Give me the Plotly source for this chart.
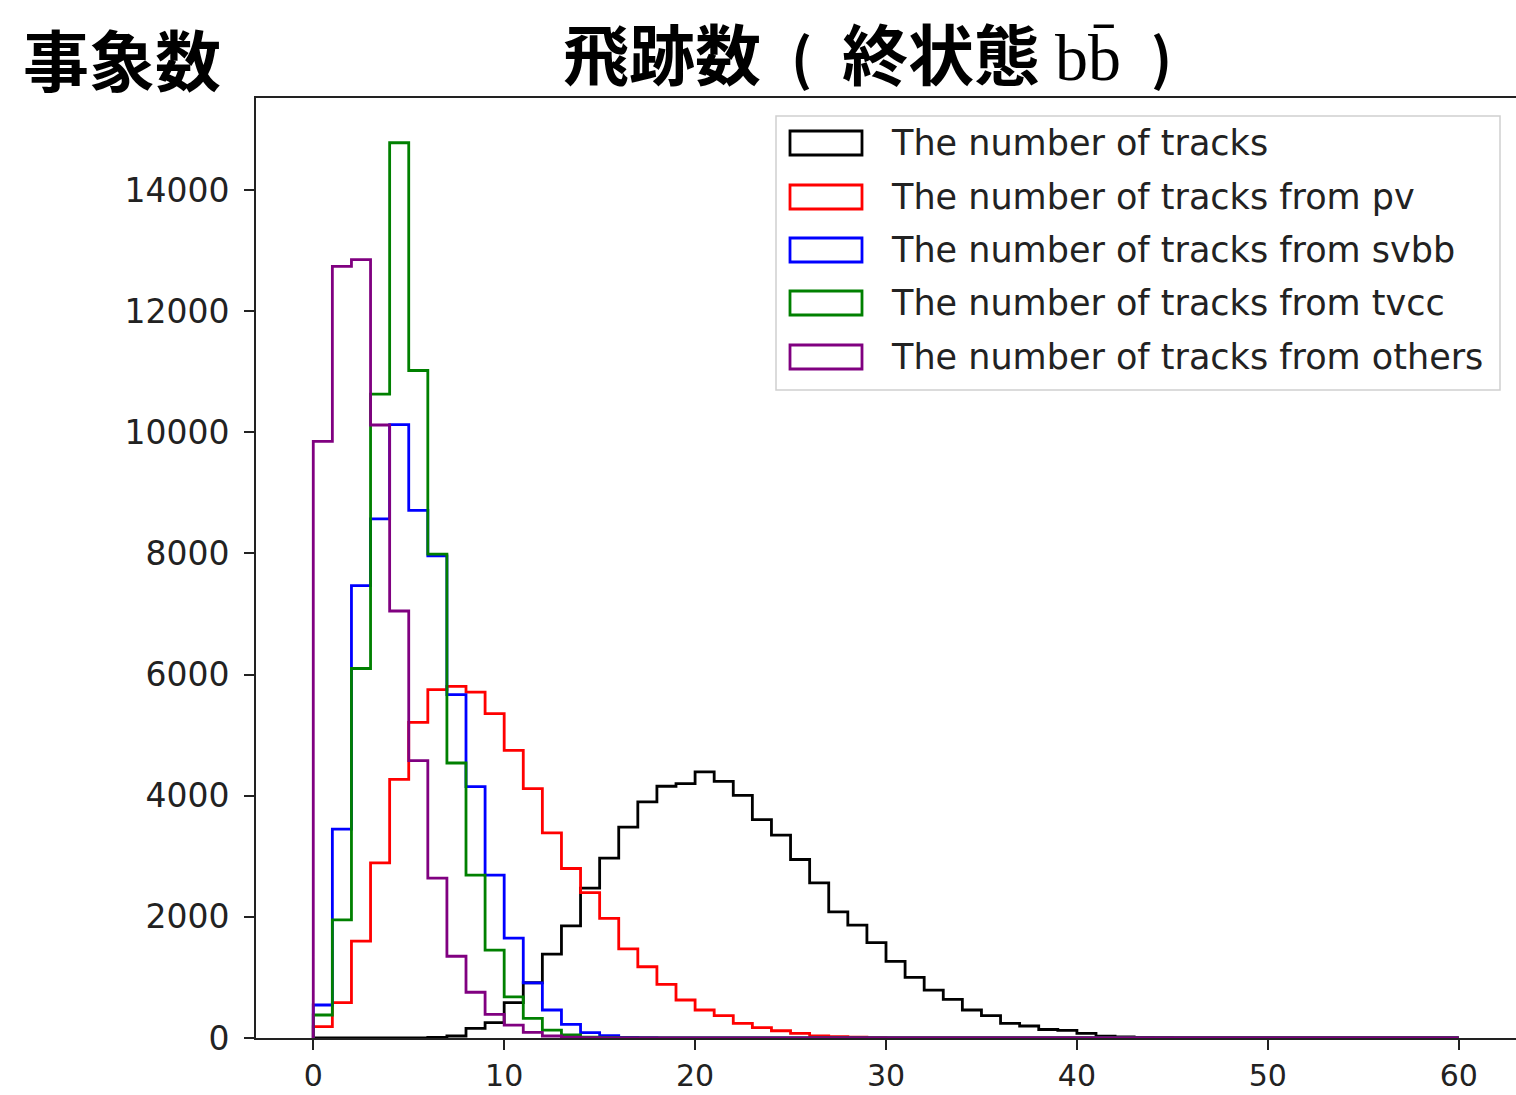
import plotly.graph_objects as go

# Bin edges: 60 unit-width bins from 0 to 60
bin_edges = list(range(0, 61))

# Event counts per bin for each track category
tracks_total = [0, 0, 0, 0, 0, 0, 8, 33, 160, 255,
                583, 912, 1385, 1850, 2475, 2970, 3480, 3897, 4156, 4200,
                4392, 4238, 4007, 3606, 3348, 2947, 2561, 2083, 1863, 1575,
                1265, 1000, 792, 638, 462, 368, 242, 198, 140, 125,
                77, 30, 18, 10, 5, 3, 2, 1, 1, 0,
                0, 0, 0, 0, 0, 0, 0, 0, 0, 0]
tracks_pv = [187, 583, 1600, 2891, 4271, 5210, 5750, 5805, 5711, 5355,
             4750, 4118, 3386, 2798, 2400, 1974, 1470, 1176, 885, 627,
             462, 368, 242, 170, 120, 77, 35, 22, 12, 5,
             3, 0, 0, 0, 0, 0, 0, 0, 0, 0,
             0, 0, 0, 0, 0, 0, 0, 0, 0, 0,
             0, 0, 0, 0, 0, 0, 0, 0, 0, 0]
tracks_svbb = [545, 3450, 7470, 8570, 10125, 8710, 7960, 5670, 4150, 2690,
               1650, 910, 462, 225, 88, 38, 10, 4, 1, 0,
               0, 0, 0, 0, 0, 0, 0, 0, 0, 0,
               0, 0, 0, 0, 0, 0, 0, 0, 0, 0,
               0, 0, 0, 0, 0, 0, 0, 0, 0, 0,
               0, 0, 0, 0, 0, 0, 0, 0, 0, 0]
tracks_tvcc = [380, 1950, 6100, 10630, 14780, 11020, 7990, 4540, 2690, 1450,
               680, 325, 130, 50, 15, 5, 2, 0, 0, 0,
               0, 0, 0, 0, 0, 0, 0, 0, 0, 0,
               0, 0, 0, 0, 0, 0, 0, 0, 0, 0,
               0, 0, 0, 0, 0, 0, 0, 0, 0, 0,
               0, 0, 0, 0, 0, 0, 0, 0, 0, 0]
tracks_others = [9850, 12740, 12850, 10120, 7050, 4580, 2640, 1350, 755, 390,
                 214, 94, 33, 12, 5, 2, 0, 0, 0, 0,
                 0, 0, 0, 0, 0, 0, 0, 0, 0, 0,
                 0, 0, 0, 0, 0, 0, 0, 0, 0, 0,
                 0, 0, 0, 0, 0, 0, 0, 0, 0, 0,
                 0, 0, 0, 0, 0, 0, 0, 0, 0, 0]

series_names = [
    "The number of tracks",
    "The number of tracks from pv",
    "The number of tracks from svbb",
    "The number of tracks from tvcc",
    "The number of tracks from others",
]
series_values = [tracks_total, tracks_pv, tracks_svbb, tracks_tvcc, tracks_others]
series_colors = ["#000000", "#ff0000", "#0000ff", "#008000", "#800080"]

x_ticks = [0, 10, 20, 30, 40, 50, 60]
y_ticks = [0, 2000, 4000, 6000, 8000, 10000, 12000, 14000]

W, H = 1516, 1095
ML, MR, MT, MB = 256, 0, 98, 57


def step_outline(edges, counts):
    """Outline of a step histogram: rise at the first edge, fall at the last."""
    xs = [edges[0]] + list(edges[:-1]) + [edges[-1], edges[-1]]
    ys = [0] + list(counts) + [counts[-1], 0]
    return xs, ys


fig = go.Figure()
for name, vals, col in zip(series_names, series_values, series_colors):
    xs, ys = step_outline(bin_edges, vals)
    fig.add_trace(go.Scatter(
        x=xs, y=ys, mode="lines", name=name,
        line=dict(color=col, width=2.8, shape="hv"),
        showlegend=False, hoverinfo="skip",
    ))

ymax = max(max(v) for v in series_values) * 1.05

fig.update_layout(
    width=W, height=H,
    margin=dict(l=ML, r=MR, t=MT, b=MB, pad=0, autoexpand=False),
    paper_bgcolor="white", plot_bgcolor="white",
    showlegend=False,
    font=dict(family="DejaVu Sans", color="#222222"),
)
fig.update_xaxes(
    range=[-3, 63], tickvals=x_ticks, ticktext=[str(t) for t in x_ticks],
    showgrid=False, zeroline=False, automargin=False,
    showline=True, linecolor="#222222", linewidth=2, mirror=True,
    ticks="outside", ticklen=10, tickwidth=2, tickcolor="#222222",
    tickfont=dict(family="DejaVu Sans", size=30, color="#222222"),
    ticklabelstandoff=0,
)
fig.update_yaxes(
    range=[0, ymax], tickvals=y_ticks, ticktext=[str(t) for t in y_ticks],
    showgrid=False, zeroline=False, automargin=False,
    showline=True, linecolor="#222222", linewidth=2, mirror=False,
    ticks="outside", ticklen=10, tickwidth=2, tickcolor="#222222",
    tickfont=dict(family="DejaVu Sans", size=33, color="#222222"),
    ticklabelstandoff=8,
)

pw, ph = W - ML - MR, H - MT - MB


def px_x(px):
    return (px - ML) / pw


def px_y(py):
    return (H - MB - py) / ph


NB = "\u00a0"
PAREN = "<span style=\"font-size:56px\">{}</span>"

# Titles
fig.add_annotation(
    x=px_x(122), y=px_y(57), xref="paper", yref="paper",
    text="<b>事象数</b>", showarrow=False, xanchor="center", yanchor="middle",
    font=dict(family="Noto Sans CJK JP", size=66, color="black"),
)
fig.add_annotation(
    x=px_x(867), y=px_y(51), xref="paper", yref="paper",
    text=(f"<b>飛跡数{NB}{NB}" + PAREN.format("(") + f"{NB}{NB}終状態{NB}</b>"
          "<span style=\"font-family:'Liberation Serif';font-weight:normal\">bb\u0304</span>"
          f"<b>{NB}{NB}" + PAREN.format(")") + "</b>"),
    showarrow=False, xanchor="center", yanchor="middle",
    font=dict(family="Noto Sans CJK JP", size=66, color="black"),
)

# Legend box with hollow colour swatches
fig.add_shape(
    type="rect", xref="paper", yref="paper",
    x0=px_x(776), x1=px_x(1500), y0=px_y(390), y1=px_y(116),
    line=dict(color="#d0d0d0", width=1.5), fillcolor="rgba(255,255,255,0.85)",
    layer="above",
)
row_y = [143, 197, 250, 303, 357]
for name, col, ry in zip(series_names, series_colors, row_y):
    fig.add_shape(
        type="rect", xref="paper", yref="paper",
        x0=px_x(790), x1=px_x(862), y0=px_y(ry + 12), y1=px_y(ry - 12),
        line=dict(color=col, width=2.8), fillcolor="rgba(0,0,0,0)",
        layer="above",
    )
    fig.add_annotation(
        x=px_x(889), y=px_y(ry), xref="paper", yref="paper",
        text=name, showarrow=False, xanchor="left", yanchor="middle",
        font=dict(family="DejaVu Sans", size=35, color="#222222"),
    )

fig.write_html("out.html")
